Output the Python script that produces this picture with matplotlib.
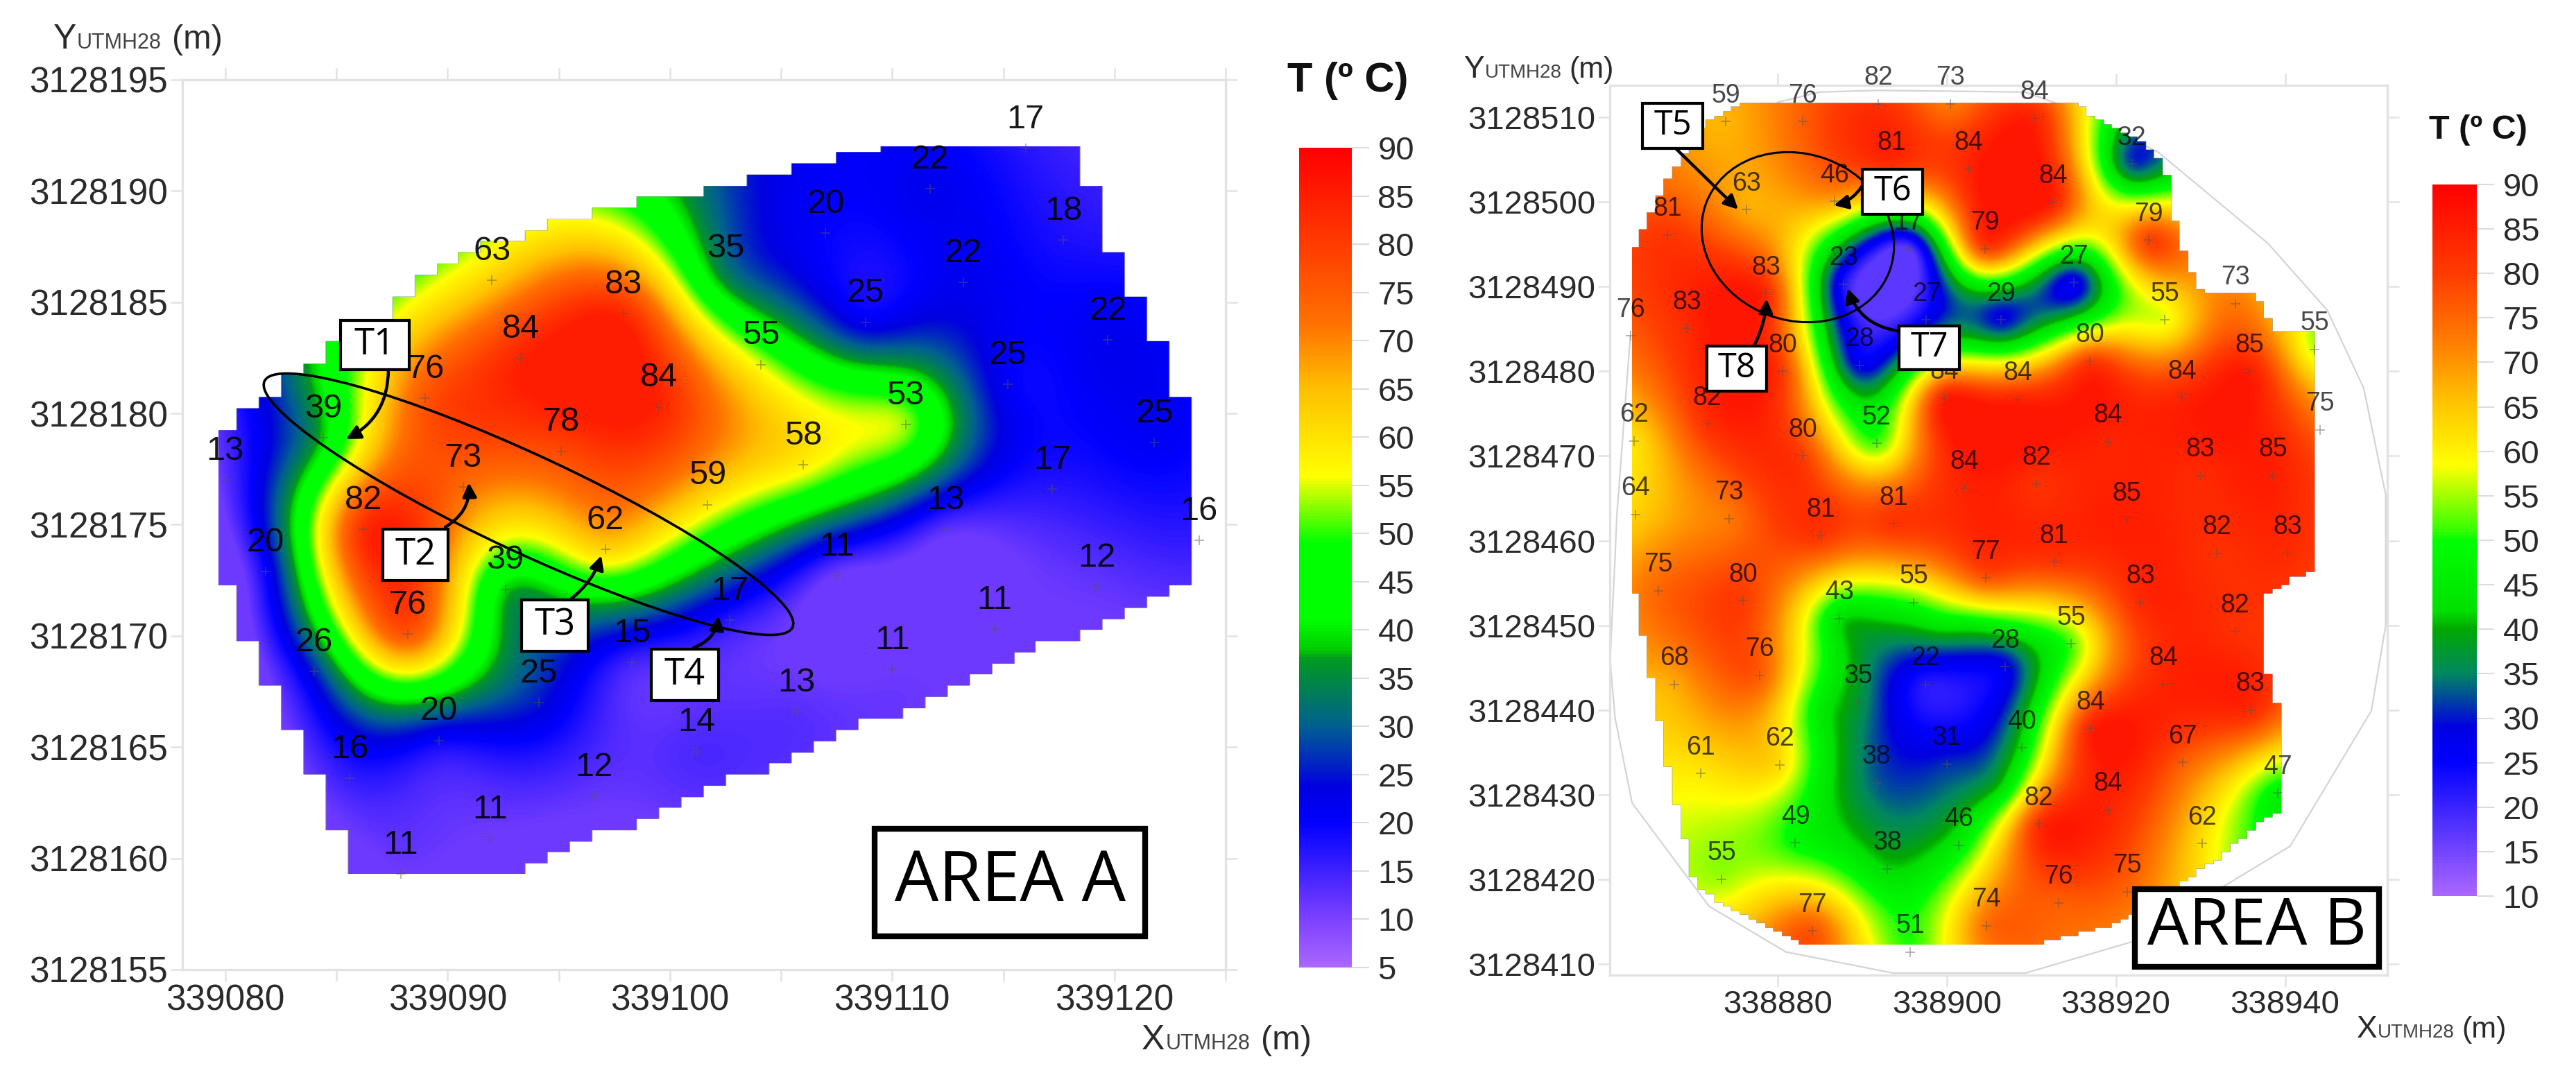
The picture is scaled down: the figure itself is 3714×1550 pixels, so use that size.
import numpy as np
import matplotlib
matplotlib.use('Agg')
import matplotlib.pyplot as plt
from matplotlib.colors import LinearSegmentedColormap, Normalize
from matplotlib.cm import ScalarMappable
from matplotlib.patches import Ellipse, Rectangle
from matplotlib.path import Path
from matplotlib.ticker import StrMethodFormatter

plt.rcParams['font.family'] = ['Liberation Sans', 'DejaVu Sans']

W, H = 3714, 1550

# area A: temperature points
a_x = [339116.0, 339111.7, 339107.0, 339117.7, 339092.0, 339102.5, 339113.2, 339097.9, 339108.8, 339119.7,
       339093.3, 339104.1, 339115.2, 339089.0, 339099.5, 339110.6, 339084.4, 339121.8, 339095.1, 339106.0,
       339090.7, 339080.0, 339117.2, 339101.7, 339112.4, 339086.2, 339123.8, 339097.1, 339081.8, 339107.5,
       339119.2, 339092.6, 339102.7, 339114.6, 339088.2, 339098.3, 339084.0, 339110.0, 339094.1, 339105.7,
       339089.6, 339101.2, 339085.6, 339096.6, 339091.9, 339087.9]
a_y = [3128191.9, 3128190.1, 3128188.1, 3128187.8, 3128186.0, 3128186.1, 3128185.9, 3128184.5, 3128184.1, 3128183.3,
       3128182.5, 3128182.2, 3128181.3, 3128180.7, 3128180.3, 3128179.5, 3128178.9, 3128178.7, 3128178.3, 3128177.7,
       3128176.7, 3128177.0, 3128176.6, 3128175.9, 3128174.8, 3128174.8, 3128174.3, 3128173.9, 3128172.9, 3128172.7,
       3128172.2, 3128172.1, 3128170.7, 3128170.3, 3128170.1, 3128168.8, 3128168.4, 3128168.5, 3128167.0, 3128166.6,
       3128165.3, 3128164.8, 3128163.6, 3128162.8, 3128160.9, 3128159.3]
a_t = [17, 22, 20, 18, 63, 35, 22, 83, 25, 22,
       84, 55, 25, 76, 84, 53, 39, 25, 78, 58,
       73, 13, 17, 59, 13, 82, 16, 62, 20, 11,
       12, 39, 17, 11, 76, 15, 26, 11, 25, 13,
       20, 14, 16, 12, 11, 11]

# area B: temperature points
b_x = [338873.9, 338883.0, 338891.9, 338900.4, 338910.4, 338921.9, 338893.5, 338902.6, 338912.6, 338876.3,
       338886.7, 338867.0, 338895.4, 338904.5, 338923.9, 338887.8, 338915.0, 338897.6, 338906.4, 338925.8,
       338934.1, 338878.6, 338869.3, 338862.6, 338943.5, 338880.6, 338889.7, 338916.9, 338935.8, 338899.7,
       338908.4, 338927.8, 338871.7, 338944.1, 338863.0, 338891.7, 338919.1, 338883.0, 338930.0, 338938.6,
       338902.1, 338910.6, 338863.2, 338921.3, 338874.3, 338893.7, 338885.1, 338931.9, 338940.3, 338912.7,
       338904.6, 338865.9, 338922.9, 338875.9, 338896.1, 338887.3, 338934.1, 338914.7, 338906.9, 338877.9,
       338897.5, 338925.6, 338867.8, 338889.6, 338935.9, 338917.0, 338908.9, 338900.0, 338927.9, 338880.3,
       338870.9, 338891.7, 338939.1, 338919.1, 338910.9, 338882.1, 338930.2, 338901.4, 338893.0, 338873.4,
       338921.3, 338913.2, 338884.1, 338904.7, 338895.7]
b_y = [3128509.5, 3128509.5, 3128511.6, 3128511.6, 3128509.9, 3128504.5, 3128503.9, 3128503.9, 3128500.0, 3128499.1,
       3128500.1, 3128496.1, 3128494.5, 3128494.5, 3128495.5, 3128490.3, 3128490.5, 3128486.1, 3128486.1, 3128486.1,
       3128488.0, 3128489.2, 3128485.1, 3128484.2, 3128482.6, 3128480.0, 3128480.7, 3128481.2, 3128480.0, 3128476.9,
       3128476.7, 3128476.9, 3128473.8, 3128473.1, 3128471.8, 3128471.5, 3128471.7, 3128470.0, 3128467.7, 3128467.7,
       3128466.2, 3128466.7, 3128463.1, 3128462.5, 3128462.6, 3128462.0, 3128460.6, 3128458.5, 3128458.5, 3128457.5,
       3128455.6, 3128454.1, 3128452.7, 3128452.9, 3128452.7, 3128450.8, 3128449.3, 3128447.8, 3128445.1, 3128444.1,
       3128443.0, 3128443.0, 3128443.0, 3128440.9, 3128440.0, 3128437.8, 3128435.5, 3128433.6, 3128433.8, 3128433.5,
       3128432.5, 3128431.4, 3128430.2, 3128428.2, 3128426.5, 3128424.3, 3128424.2, 3128424.0, 3128421.2, 3128420.0,
       3128418.5, 3128417.2, 3128413.9, 3128414.5, 3128411.4]
b_t = [59, 76, 82, 73, 84, 32, 81, 84, 84, 63,
       46, 81, 17, 79, 79, 23, 27, 27, 29, 55,
       73, 83, 83, 76, 55, 80, 28, 80, 85, 84,
       84, 84, 82, 75, 62, 52, 84, 80, 83, 85,
       84, 82, 64, 85, 73, 81, 81, 82, 83, 81,
       77, 75, 83, 80, 55, 43, 82, 55, 28, 76,
       22, 84, 68, 35, 83, 84, 40, 31, 67, 62,
       61, 38, 47, 84, 82, 49, 62, 46, 38, 55,
       75, 76, 77, 74, 51]

# map colour differs from the printed number at some points: value
a_colour_i = [8, 12, 17]
a_colour_t = [22, 21, 21]
b_colour_i = [0, 9, 10, 19, 24, 54, 57, 63, 66, 68, 71, 78]
b_colour_t = [67, 68, 68, 58, 56, 51, 52, 37, 44, 76, 33, 42]

# extra readings of the map colour between the points, not printed on the map
a_extra_x = [339094.5, 339089.5, 339084.5]
a_extra_y = [3128187.9, 3128185.8, 3128181.5]
a_extra_t = [60, 56, 42]
b_extra_x = [338884.8, 338885.0, 338886.5, 338903.0, 338911.9, 338906.7, 338899.0]
b_extra_y = [3128440.0, 3128432.0, 3128447.0, 3128450.0, 3128445.7, 3128430.7, 3128449.5]
b_extra_t = [46, 46, 46, 45, 44, 44, 42]

# mapped outline of each area
a_edge_x = [339085.9, 339092.9, 339107.7, 339123.6, 339123.6, 339122.2, 339120.3, 339118.9, 339118.0, 339110.0,
            339105.8, 339102.0, 339098.0, 339094.4, 339089.7, 339087.1, 339084.4, 339079.7, 339079.7, 339081.6,
            339083.6, 339084.8]
a_edge_y = [3128159.3, 3128159.3, 3128165.5, 3128172.4, 3128179.2, 3128182.7, 3128186.5, 3128190.6, 3128192.0, 3128192.0,
            3128191.1, 3128190.2, 3128189.3, 3128188.4, 3128186.7, 3128184.3, 3128182.7, 3128179.1, 3128172.9, 3128168.3,
            3128164.8, 3128161.7]
b_edge_x = [338876.5, 338915.0, 338918.0, 338923.7, 338925.8, 338926.7, 338927.1, 338928.9, 338930.2, 338936.3,
            338938.9, 338943.9, 338943.9, 338940.6, 338937.1, 338937.1, 338938.9, 338939.9, 338939.9, 338936.3,
            338932.3, 338927.6, 338922.8, 338918.9, 338910.2, 338882.8, 338874.5, 338870.2, 338868.6, 338867.6,
            338865.8, 338864.5, 338863.7, 338862.8, 338862.8, 338864.1, 338866.7, 338871.5]
b_edge_y = [3128511.8, 3128511.8, 3128509.7, 3128506.8, 3128503.9, 3128500.5, 3128496.8, 3128491.7, 3128489.4, 3128489.4,
            3128484.6, 3128484.6, 3128456.6, 3128455.4, 3128452.9, 3128447.0, 3128441.6, 3128435.3, 3128428.6, 3128426.1,
            3128422.7, 3128419.3, 3128416.4, 3128414.3, 3128412.3, 3128412.3, 3128416.4, 3128419.3, 3128426.5, 3128430.3,
            3128439.9, 3128445.8, 3128450.4, 3128454.6, 3128494.3, 3128496.8, 3128502.2, 3128509.5]

# thin grey site outline around area B
b_site_x = [338881.0, 338893.7, 338909.3, 338921.9, 338940.6, 338950.2, 338951.9, 338951.9, 338949.3, 338945.0,
            338938.0, 338925.0, 338913.7, 338909.3, 338891.9, 338885.0, 338880.0]
b_site_y = [3128411.4, 3128408.9, 3128408.9, 3128412.6, 3128423.9, 3128439.9, 3128450.0, 3128465.4, 3128478.0, 3128487.2,
            3128495.1, 3128505.9, 3128511.4, 3128513.0, 3128513.2, 3128513.0, 3128511.8]
b_site2_x = [338881.0, 338871.9, 338862.8, 338860.8, 338860.2, 338860.8, 338861.0, 338862.6]
b_site2_y = [3128411.4, 3128416.8, 3128429.0, 3128439.0, 3128445.8, 3128458.3, 3128463.0, 3128484.2]

a_cmap = LinearSegmentedColormap.from_list('a', [
    (0.000, '#aa66ff'), (0.059, '#7a40ff'), (0.176, '#0000ff'), (0.220, '#0000e0'), (0.294, '#006090'),
    (0.376, '#009a20'), (0.388, '#00cc00'), (0.424, '#00ff00'), (0.518, '#00ff00'), (0.600, '#ffff00'),
    (0.706, '#ffc000'), (0.788, '#ff7000'), (0.882, '#ff3c00'), (1.000, '#ff0000')])
b_cmap = LinearSegmentedColormap.from_list('b', [
    (0.000, '#aa66ff'), (0.188, '#0000ff'), (0.238, '#0000e0'), (0.312, '#008860'), (0.375, '#00a800'),
    (0.400, '#00e000'), (0.500, '#00ff00'), (0.512, '#30ff00'), (0.606, '#ffff00'), (0.700, '#ffc000'),
    (0.775, '#ff8000'), (0.875, '#ff3c00'), (1.000, '#ff0000')])


def px_axes(left, top, right, bottom):
    return fig.add_axes([left / W, 1 - bottom / H, (right - left) / W, (bottom - top) / H])


# printed values with colour readings swapped in, plus the extra readings
def field_values(x, y, t, fix_i, fix_t, ex_x, ex_y, ex_t):
    v = list(t)
    for i, f in zip(fix_i, fix_t):
        v[i] = f
    return list(x) + ex_x, list(y) + ex_y, v + ex_t


# smooth surface through the points, masked with a coarse outline so the edge is stepped
def draw_field(ax, x, y, t, ex, ey, cmap, norm, c, sx, sy):
    x = np.array(x)
    y = np.array(y)
    t = np.array(t, dtype=float)
    d = np.hypot(x[:, None] - x[None, :], y[:, None] - y[None, :])
    w = np.linalg.solve(np.sqrt(d**2 + c**2), t - t.mean())
    gx = np.linspace(min(ex), max(ex), 700)
    gy = np.linspace(min(ey), max(ey), 900)
    mx, my = np.meshgrid(gx, gy)
    z = np.zeros(mx.shape)
    for i in range(len(x)):
        z += w[i] * np.sqrt((mx - x[i])**2 + (my - y[i])**2 + c**2)
    z = np.clip(z + t.mean(), t.min(), t.max() + 1)
    outline = Path(np.column_stack([ex, ey]))
    stepped = np.column_stack([(np.round(mx / sx) * sx).ravel(), (np.round(my / sy) * sy).ravel()])
    inside = outline.contains_points(stepped).reshape(mx.shape)
    ax.imshow(np.ma.array(z, mask=~inside), origin='lower', extent=[gx[0], gx[-1], gy[0], gy[-1]],
              cmap=cmap, norm=norm, aspect='auto', interpolation='bilinear', zorder=1)


def style_axes(ax, xlim, ylim, xmajor, xminor, yticks):
    ax.set_xlim(xlim)
    ax.set_ylim(ylim)
    ax.set_xticks(xmajor)
    ax.set_xticks(xminor, minor=True)
    ax.set_yticks(yticks)
    ax.xaxis.set_major_formatter(StrMethodFormatter('{x:.0f}'))
    ax.yaxis.set_major_formatter(StrMethodFormatter('{x:.0f}'))
    for s in ax.spines.values():
        s.set_color('#e2e2e2')
        s.set_linewidth(2.4)
    ax.tick_params(which='both', direction='out', top=True, right=True, length=12, width=1.8, color='#e2e2e2', pad=3)


def draw_points(ax, x, y, t, size, off, alpha):
    ax.scatter(x, y, marker='+', s=110, c='#555555', alpha=0.5, linewidths=1.2, zorder=3)
    for a, b, v in zip(x, y, t):
        ax.annotate(str(v), (a, b), xytext=(0, off), textcoords='offset points', ha='center', va='center',
                    fontsize=size, color='black', alpha=alpha, zorder=4, annotation_clip=False)


fig = plt.figure(figsize=(W / 100, H / 100), dpi=100, facecolor='white')

# ---- area A
ax_a = px_axes(263, 115, 1767, 1398)
norm_a = Normalize(5, 90)
fx, fy, ft = field_values(a_x, a_y, a_t, a_colour_i, a_colour_t, a_extra_x, a_extra_y, a_extra_t)
draw_field(ax_a, fx, fy, ft, a_edge_x, a_edge_y, a_cmap, norm_a, 1.6, 1.0, 0.5)
style_axes(ax_a, (339078.07, 339125.0), (3128155, 3128195), list(range(339080, 339121, 10)),
           list(range(339085, 339126, 10)), list(range(3128155, 3128196, 5)))
ax_a.tick_params(axis='both', labelsize=37, labelcolor='#2a2a2a')
draw_points(ax_a, a_x, a_y, a_t, 35, 30, 0.9)

# ---- area B
ax_b = px_axes(2321, 123, 3442, 1406)
norm_b = Normalize(10, 90)
fx, fy, ft = field_values(b_x, b_y, b_t, b_colour_i, b_colour_t, b_extra_x, b_extra_y, b_extra_t)
draw_field(ax_b, fx, fy, ft, b_edge_x, b_edge_y, b_cmap, norm_b, 2.2, 1.0, 0.5)
ax_b.plot(b_site_x, b_site_y, color='#d4d4d4', lw=1.6, zorder=0)
ax_b.plot(b_site2_x, b_site2_y, color='#d4d4d4', lw=1.6, zorder=0)
style_axes(ax_b, (338860.17, 338952.09), (3128408.66, 3128513.8), [338880, 338900, 338920, 338940], [],
           list(range(3128410, 3128511, 10)))
ax_b.tick_params(axis='both', labelsize=34, labelcolor='#2a2a2a')
draw_points(ax_b, b_x, b_y, b_t, 27, 27, 0.72)

# ---- colour bars
for box, cmap, norm, ticks, tx, ty, tsize in [
        ((1873, 213, 1949, 1395), a_cmap, norm_a, list(range(5, 91, 5)), 1943, 117, 43),
        ((3507, 266, 3571, 1292), b_cmap, norm_b, list(range(10, 91, 5)), 3573, 187, 35)]:
    cax = px_axes(*box)
    cb = fig.colorbar(ScalarMappable(norm=norm, cmap=cmap), cax=cax, ticks=ticks)
    cb.outline.set_visible(False)
    cb.ax.tick_params(length=18, width=1.5, color='#dcdcdc', labelsize=34, labelcolor='#2a2a2a', pad=9)
    fig.text(tx / W, 1 - ty / H, 'T (º C)', ha='center', va='center', fontsize=tsize, fontweight='bold', color='#111111')

# ---- overlay in picture pixels for callouts
ov = fig.add_axes([0, 0, 1, 1], facecolor='none')
ov.set_xlim(0, W)
ov.set_ylim(H, 0)
ov.axis('off')

box_left = [491, 552, 752, 939, 2368, 2685, 2738, 2461]
box_top = [462, 763, 865, 936, 149, 244, 470, 499]
box_right = [590, 646, 848, 1036, 2455, 2772, 2825, 2547]
box_bottom = [533, 837, 939, 1010, 214, 309, 533, 564]
box_text = ['T1', 'T2', 'T3', 'T4', 'T5', 'T6', 'T7', 'T8']
box_size = [38, 38, 38, 38, 35, 35, 35, 35]
for l, t, r, b, s, fs in zip(box_left, box_top, box_right, box_bottom, box_text, box_size):
    ov.add_patch(Rectangle((l, t), r - l, b - t, fc='white', ec='black', lw=3, zorder=8))
    ov.text((l + r) / 2, (t + b) / 2, s, ha='center', va='center', fontsize=fs, family='Open Sans', zorder=9)

ov.add_patch(Ellipse((762, 727), 840, 140, angle=25, fc='none', ec='black', lw=2.6, zorder=6))
ov.add_patch(Ellipse((2592, 342), 282, 240, angle=20, fc='none', ec='black', lw=2.2, zorder=6))

arrow_from = [(560, 533), (642, 760), (824, 863), (1000, 934), (2416, 214), (2685, 268), (2735, 477), (2530, 497)]
arrow_to = [(499, 633), (676, 696), (867, 801), (1036, 888), (2506, 302), (2644, 296), (2664, 416), (2547, 431)]
arrow_bend = [-0.3, 0.3, 0.15, 0.3, 0, -0.2, -0.3, 0.1]
for p, q, rad in zip(arrow_from, arrow_to, arrow_bend):
    ov.annotate('', xy=q, xytext=p, zorder=7,
                arrowprops=dict(arrowstyle='-|>', color='black', lw=3.2, mutation_scale=30, shrinkA=0, shrinkB=0,
                                connectionstyle='arc3,rad=%s' % rad))

# area tags
ov.add_patch(Rectangle((1261, 1195), 390, 155, fc='white', ec='black', lw=6, zorder=8))
ov.text(1456, 1273, 'AREA A', ha='center', va='center', fontsize=72, family='Open Sans', zorder=9)
ov.add_patch(Rectangle((3078, 1282), 352, 112, fc='white', ec='black', lw=6, zorder=8))
ov.text(3254, 1338, 'AREA B', ha='center', va='center', fontsize=68, family='Open Sans', zorder=9)

# axis names, big letter + small subscript + unit
name_letter = ['Y', 'X', 'Y', 'X']
name_x = [77, 1646, 2110, 3398]
name_y = [70, 1513, 112, 1496]
name_sub_x = [111, 1681, 2141, 3428]
name_unit_x = [248, 1818, 2262, 3549]
name_big = [36, 36, 32, 32]
name_small = [22, 22, 20, 20]
name_unit = [35, 35, 31, 31]
for i in range(4):
    ov.text(name_x[i], name_y[i], name_letter[i], fontsize=name_big[i], color='#2a2a2a', va='baseline')
    ov.text(name_sub_x[i], name_y[i], 'UTMH28', fontsize=name_small[i], color='#444444', va='baseline')
    ov.text(name_unit_x[i], name_y[i], '(m)', fontsize=name_unit[i], color='#2a2a2a', va='baseline')

fig.savefig('out.png', dpi=100)
